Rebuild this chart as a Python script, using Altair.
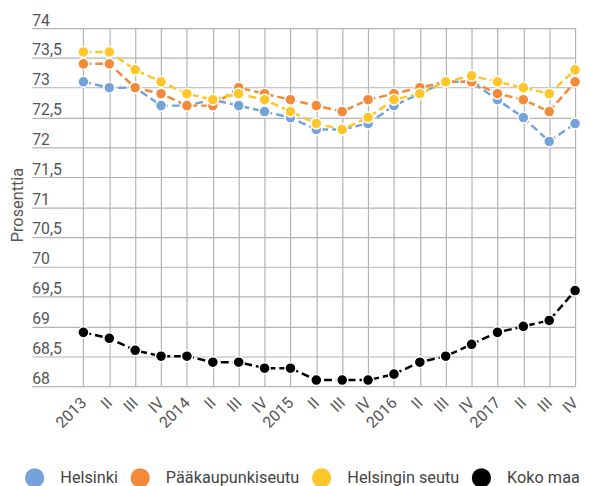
import altair as alt
import pandas as pd

quarters = ["2013", "II", "III", "IV", "2014", "II", "III", "IV", "2015", "II", "III", "IV",
            "2016", "II", "III", "IV", "2017", "II", "III", "IV"]
helsinki = [73.1, 73.0, 73.0, 72.7, 72.7, 72.8, 72.7, 72.6, 72.5, 72.3, 72.3, 72.4,
            72.7, 72.9, 73.1, 73.1, 72.8, 72.5, 72.1, 72.4]
paakaupunkiseutu = [73.4, 73.4, 73.0, 72.9, 72.7, 72.7, 73.0, 72.9, 72.8, 72.7, 72.6, 72.8,
                    72.9, 73.0, 73.1, 73.1, 72.9, 72.8, 72.6, 73.1]
helsingin_seutu = [73.6, 73.6, 73.3, 73.1, 72.9, 72.8, 72.9, 72.8, 72.6, 72.4, 72.3, 72.5,
                   72.8, 72.9, 73.1, 73.2, 73.1, 73.0, 72.9, 73.3]
koko_maa = [68.9, 68.8, 68.6, 68.5, 68.5, 68.4, 68.4, 68.3, 68.3, 68.1, 68.1, 68.1,
            68.2, 68.4, 68.5, 68.7, 68.9, 69.0, 69.1, 69.6]

series = ["Helsinki", "Pääkaupunkiseutu", "Helsingin seutu", "Koko maa"]
colors = ["#74A3DB", "#F28A3A", "#FFC629", "#000000"]
y_ticks = [68, 68.5, 69, 69.5, 70, 70.5, 71, 71.5, 72, 72.5, 73, 73.5, 74]

rows = []
for k, (name, vals) in enumerate(zip(series, [helsinki, paakaupunkiseutu, helsingin_seutu, koko_maa])):
    for i, v in enumerate(vals):
        rows.append({"i": i, "value": v, "series": name, "k": k})
df = pd.DataFrame(rows)

label_arr = "[" + ",".join("'" + q + "'" for q in quarters) + "]"

x = alt.X(
    "i:Q",
    scale=alt.Scale(domain=[-2, 19], nice=False, zero=False),
    axis=alt.Axis(
        values=list(range(len(quarters))),
        labelExpr=label_arr + "[datum.value]",
        labelAngle=-45, labelAlign="right", labelBaseline="middle",
        labelPadding=14, labelFontSize=16, labelColor="#555555",
        labelFlush=False, labelOverlap=False,
        ticks=False, domain=False, grid=True,
        gridColor="#b3b3b3", gridWidth=1.2, title=None,
    ),
)
y = alt.Y(
    "value:Q",
    scale=alt.Scale(domain=[68, 74], nice=False, zero=False),
    axis=alt.Axis(
        values=y_ticks,
        labelExpr="replace(format(datum.value, '~g'), '.', ',')",
        labelAlign="left", labelBaseline="alphabetic", labelPadding=0, labelOffset=-3,
        labelFontSize=16, labelColor="#555555", labelFlush=False, labelOverlap=False,
        ticks=False, domain=False, grid=True, gridColor="#b3b3b3", gridWidth=1.2,
        title="Prosenttia", titleX=-14, titleY=179, titleAngle=-90,
        titleAlign="center", titleBaseline="middle", titleFontSize=16.5,
        titleFontWeight="normal", titleColor="#555555",
    ),
)

legend = alt.Legend(
    orient="none", legendX=-7, legendY=446, direction="horizontal",
    title=None, symbolType="circle", symbolSize=380, symbolStrokeWidth=0,
    symbolStrokeColor="transparent",
    symbolOpacity=1, labelFontSize=16.5, labelOffset=16, columnPadding=12,
    labelColor="#444444",
)

lines = alt.Chart(df).mark_line(strokeWidth=2.5, strokeDash=[8, 4]).encode(
    x=x, y=y,
    stroke=alt.Stroke("series:N", scale=alt.Scale(domain=series, range=colors), legend=legend),
    detail="series:N",
    order="i:Q",
)

points = alt.Chart(df).mark_circle(stroke="white", strokeWidth=1.5, opacity=1).encode(
    x=x, y=y,
    fill=alt.Fill("series:N", scale=alt.Scale(domain=series, range=colors), legend=legend),
)

chart = alt.layer(lines, points).properties(
    width=551, height=363,
    autosize=alt.AutoSizeParams(type="none"),
    padding={"left": 24, "top": 17, "right": 7, "bottom": 98},
).configure(font="Roboto").configure_view(stroke=None).configure_circle(size=125)

chart.save("out.html", embed_options={"renderer": "svg", "actions": False})
